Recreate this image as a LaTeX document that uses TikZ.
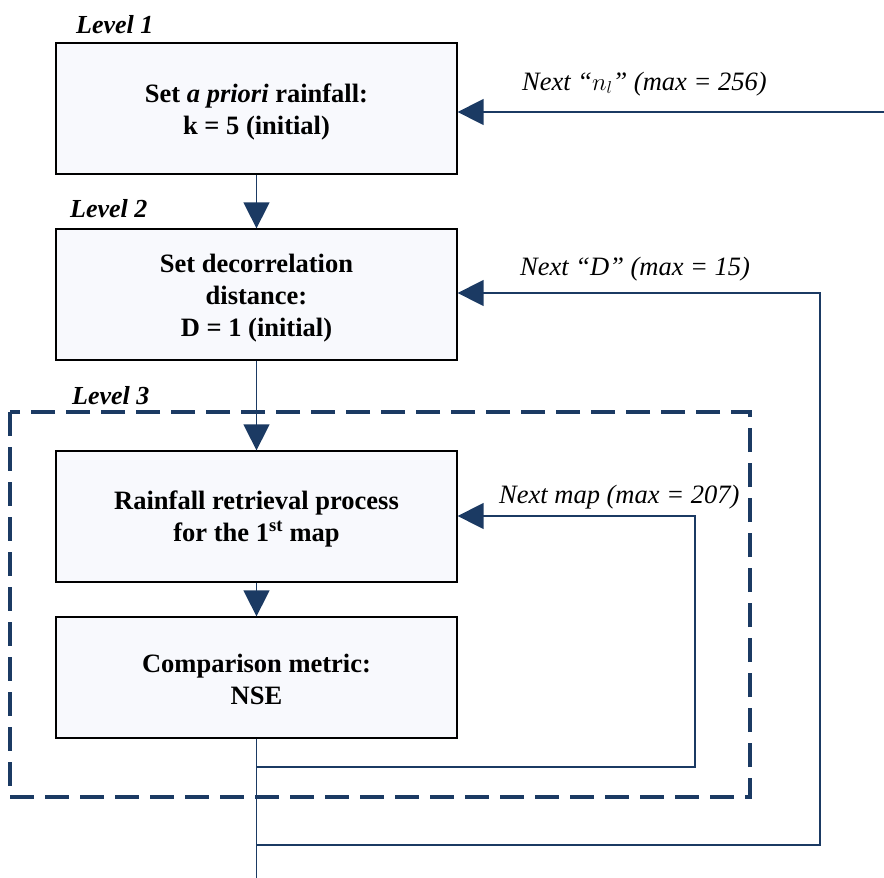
\documentclass[tikz,border=0pt]{standalone}
\usepackage{fontspec}
\setmainfont{Liberation Serif}
\usetikzlibrary{arrows.meta}
\definecolor{navy}{HTML}{1B3A63}
\definecolor{boxfill}{HTML}{F8F9FD}

\begin{document}
\begin{tikzpicture}[x=1pt,y=-1pt,
  stepbox/.style={draw=black, line width=1.3pt, fill=boxfill, minimum width=401pt, inner sep=0pt},
  boxtext/.style={inner sep=0pt, align=center, font=\fontsize{26.5}{32}\selectfont\bfseries},
  flow/.style={draw=navy, line width=1.5pt},
  tip/.style={-{Triangle[length=26pt,width=26pt]}},
  lvl/.style={font=\fontsize{26}{30}\selectfont\bfseries\itshape, anchor=base west, inner sep=0pt},
  note/.style={font=\fontsize{26.5}{30}\selectfont\itshape, anchor=base west, inner sep=0pt},
  levelframe/.style={draw=navy, line width=3.5pt, dash pattern=on 24pt off 11pt}]
\useasboundingbox (0,0) rectangle (884,878);

% level 3 frame
\draw[levelframe] (10,412) rectangle (750,797);

% process boxes
\node[stepbox, minimum height=131pt] (b1) at (256.5,108.5) {};
\node[stepbox, minimum height=131pt] (b2) at (256.5,294.5) {};
\node[stepbox, minimum height=131pt] (b3) at (256.5,516.5) {};
\node[stepbox, minimum height=121pt] (b4) at (256.5,677.5) {};

% box texts
\node[boxtext] (t1) at ([yshift=-3.5pt]b1.center) {Set \textit{a priori} rainfall:\\ k = 5 (initial)};
\node[boxtext] (t2) at ([yshift=-4pt]b2.center) {Set decorrelation\\ distance:\\ D = 1 (initial)};
\node[boxtext] (t3) at ([yshift=-2pt]b3.center) {Rainfall retrieval process\\ for the 1\textsuperscript{st} map};
\node[boxtext] (t4) at ([yshift=-1.5pt]b4.center) {Comparison metric:\\ NSE};

% level labels
\node[lvl] (l1) at (76,33) {Level 1};
\node[lvl] (l2) at (70,217) {Level 2};
\node[lvl] (l3) at (72,404) {Level 3};

% loop labels
\node[note] (n1) at (522,90) {Next \textquotedblleft$n_l$\textquotedblright\ (max = 256)};
\node[note] (n2) at (520,275) {Next \textquotedblleft D\textquotedblright\ (max = 15)};
\node[note] (n3) at (499,503) {Next map (max = 207)};

% main flow
\draw[flow, tip] (b1.south) -- (b2.north);
\draw[flow, tip] (b2.south) -- (b3.north);
\draw[flow, tip] (b3.south) -- (b4.north);
\coordinate (out) at (256.5,878);
\draw[flow] (b4.south) -- (out);

% loop back: next n_l
\coordinate (inN) at (884,112);
\draw[flow, tip] (inN) -- (inN -| b1.east);

% loop back: next D
\coordinate (jD) at (256.5,845);
\coordinate (rD) at (820,293);
\draw[flow, tip] (jD) -| (rD) -- (rD -| b2.east);

% loop back: next map
\coordinate (jM) at (256.5,767);
\coordinate (rM) at (695,516);
\draw[flow, tip] (jM) -| (rM) -- (rM -| b3.east);
\end{tikzpicture}
\end{document}
